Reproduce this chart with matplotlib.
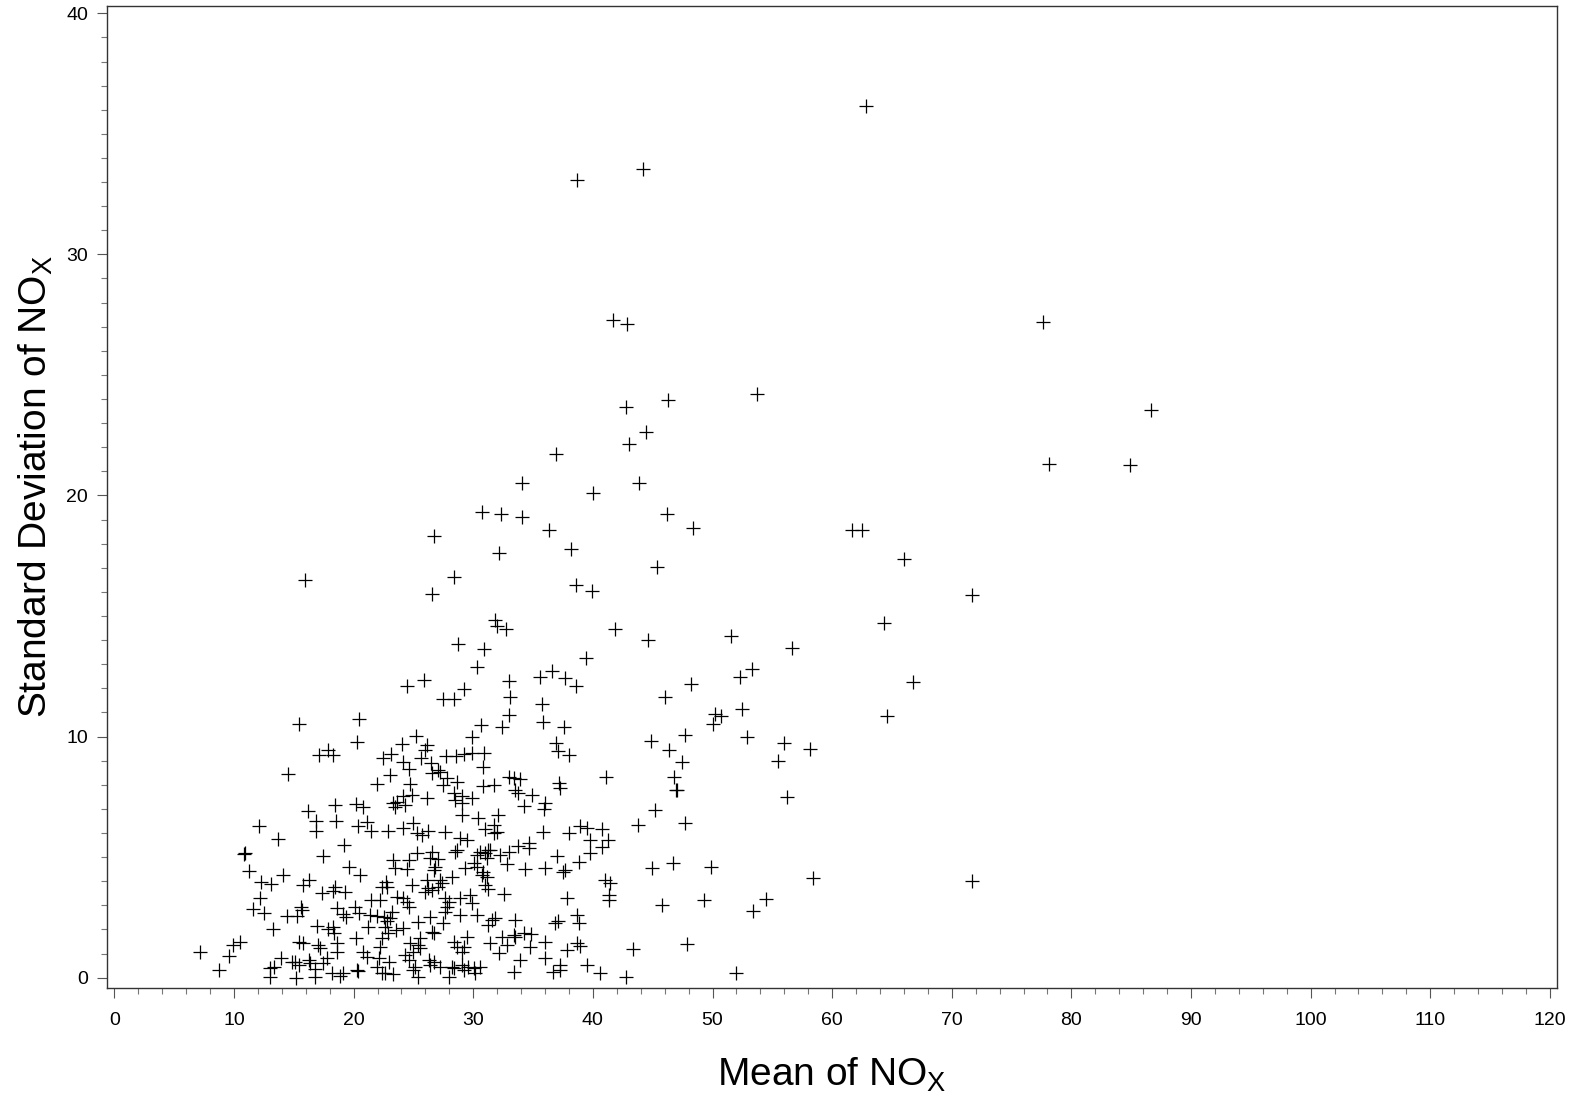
import numpy as np
import matplotlib
matplotlib.use('Agg')
import matplotlib.pyplot as plt
from matplotlib.ticker import MultipleLocator

# mean and standard deviation of NOx, by region
upper_mean = [62.84, 44.15, 38.68, 41.71, 42.89, 77.65, 53.74, 46.3, 86.66, 42.78,
              44.46, 42.98, 36.91, 78.16, 84.9, 34.09, 43.82, 39.97, 30.69, 32.36,
              34.09, 46.2, 36.3, 48.37, 61.66, 62.5, 26.73, 32.19, 38.19, 66.04,
              45.35, 71.7, 64.3]
upper_sd = [36.14, 33.55, 33.09, 27.28, 27.11, 27.19, 24.19, 23.98, 23.55, 23.65,
            22.62, 22.13, 21.72, 21.3, 21.27, 20.5, 20.5, 20.1, 19.33, 19.25,
            19.12, 19.23, 18.56, 18.67, 18.58, 18.58, 18.33, 17.61, 17.79, 17.37,
            17.03, 15.87, 14.7]

mid_mean = [15.97, 28.43, 26.59, 38.6, 39.9, 31.83, 31.97, 32.75, 41.81, 28.74,
            30.89, 39.44, 30.3, 24.5, 25.87, 27.5, 28.39, 29.24, 32.95, 33.11,
            35.57, 36.62, 37.68, 38.6, 35.76, 32.95, 32.39, 30.66, 35.79, 37.62,
            15.44, 20.46, 20.32, 29.88, 25.2, 24.03, 26.12, 25.98, 36.9, 37.12,
            38.04, 17.14, 17.84, 18.31, 22.44, 23.11, 24.12, 24.65, 25.62, 26.48,
            27.09, 27.73, 28.57, 29.24, 29.88, 30.89, 30.8, 14.55]
mid_sd = [16.5, 16.61, 15.92, 16.29, 16.02, 14.84, 14.59, 14.46, 14.46, 13.83,
          13.64, 13.25, 12.88, 12.1, 12.35, 11.55, 11.55, 11.97, 12.31, 11.63,
          12.46, 12.71, 12.42, 12.08, 11.36, 10.91, 10.41, 10.5, 10.6, 10.39,
          10.51, 10.72, 9.78, 10.0, 10.03, 9.7, 9.66, 9.45, 9.75, 9.42,
          9.24, 9.24, 9.45, 9.24, 9.1, 9.28, 8.96, 8.66, 9.13, 8.92,
          8.62, 9.21, 9.21, 9.29, 9.31, 9.31, 8.73, 8.44]

right_mean = [44.6, 51.56, 56.66, 53.26, 52.26, 48.16, 66.76, 46.02, 50.22, 50.73,
              50.06, 52.48, 64.58, 47.74, 44.82, 52.9, 56.0, 58.14, 46.38, 47.47,
              55.47, 46.74, 46.97, 47.0, 56.25, 45.18, 43.81, 47.74, 44.96, 46.69,
              49.87, 58.39, 71.69, 45.77, 49.33, 54.43, 53.4, 43.39, 47.88, 42.78,
              51.95]
right_sd = [14.0, 14.17, 13.69, 12.8, 12.46, 12.2, 12.27, 11.66, 10.95, 10.85,
            10.54, 11.14, 10.86, 10.06, 9.81, 10.0, 9.74, 9.48, 9.43, 8.94,
            8.98, 8.33, 7.78, 7.8, 7.51, 6.96, 6.34, 6.41, 4.54, 4.77,
            4.61, 4.12, 4.0, 3.03, 3.21, 3.28, 2.78, 1.2, 1.39, 0.04,
            0.18]

low_left_mean = [23.04, 21.94, 18.45, 20.18, 20.77, 16.17, 23.33, 23.61, 23.47, 16.89,
                 16.86, 18.51, 21.15, 20.35, 21.44, 22.84, 12.1, 13.66, 19.23, 10.87,
                 10.9, 17.48, 11.24, 19.65, 20.57, 14.13, 12.24, 13.1, 15.8, 16.23,
                 12.19, 11.56, 12.54, 17.39, 18.31, 18.45, 19.29, 15.61, 15.67, 14.41,
                 15.3, 13.24, 16.92, 17.89, 18.31, 18.37, 18.6, 19.15, 19.38, 20.13,
                 20.47, 21.38, 21.94, 22.5, 21.47, 22.22, 23.2, 23.61, 21.24, 15.44,
                 15.8, 16.99, 17.2, 18.6, 18.65, 20.21, 9.95, 10.5, 9.54, 7.17,
                 8.78, 13.0, 13.35, 13.0, 13.91, 14.83, 15.1, 15.46, 15.19, 16.3,
                 16.36, 16.78, 16.8, 17.48, 17.76, 18.18, 18.87, 19.15, 20.27, 20.4,
                 20.82, 21.1, 22.1, 21.94, 22.36, 22.63, 23.33, 22.36, 22.22, 22.91,
                 22.63, 22.99, 23.47, 23.33, 22.72, 22.36, 22.78, 23.05, 22.78, 23.56]
low_left_sd = [8.41, 8.04, 7.17, 7.19, 7.09, 6.93, 7.24, 7.3, 7.07, 6.49,
               6.09, 6.51, 6.45, 6.27, 6.1, 6.09, 6.29, 5.76, 5.52, 5.12,
               5.15, 5.05, 4.44, 4.58, 4.25, 4.26, 3.98, 3.88, 3.85, 4.05,
               3.32, 2.85, 2.7, 3.5, 3.6, 3.78, 3.57, 2.92, 2.81, 2.57,
               2.57, 2.03, 2.16, 2.01, 2.12, 1.84, 2.88, 2.64, 2.53, 2.95,
               2.67, 2.6, 2.57, 2.53, 3.22, 3.22, 2.74, 3.36, 2.12, 1.49,
               1.43, 1.36, 1.22, 1.43, 1.08, 1.63, 1.36, 1.49, 0.91, 1.07,
               0.32, 0.39, 0.43, 0.02, 0.8, 0.66, 0.66, 0.53, 0.0, 0.73,
               0.6, 0.35, 0.04, 0.62, 0.83, 0.21, 0.07, 0.18, 0.32, 0.28,
               1.08, 0.87, 0.8, 0.46, 0.21, 0.18, 0.15, 1.63, 1.29, 1.84,
               2.12, 0.66, 4.54, 4.88, 3.98, 3.78, 3.78, 2.46, 2.35, 1.98]

low_mid_mean = [26.52, 27.23, 27.79, 28.63, 27.5, 24.72, 24.87, 24.16, 24.31, 26.12,
                28.35, 28.49, 29.05, 29.05, 29.88, 29.05, 30.8, 31.7, 30.43, 32.1,
                32.95, 33.37, 33.93, 33.5, 33.78, 34.2, 34.9, 36.01, 35.93, 37.13,
                37.27, 41.11, 24.16, 25.0, 25.28, 25.7, 26.25, 27.65, 28.91, 29.47,
                31.0, 31.7, 31.76, 31.98, 33.78, 34.7, 34.62, 35.79, 38.04, 38.94,
                39.5, 40.75, 41.3, 40.75, 39.77, 39.77, 37.0, 38.8, 37.68, 37.54,
                36.01, 34.34, 41.03, 41.45, 41.31, 41.31, 37.82, 25.28, 26.52, 26.39,
                27.09, 26.81, 26.68, 24.45, 24.59, 28.49, 28.63, 29.32, 30.02, 30.3,
                30.58, 31.0, 31.14, 31.27, 31.4, 32.25, 32.95, 32.81, 30.72, 30.3,
                30.85, 31.14, 31.0, 31.27, 32.53, 26.12, 26.25, 26.52, 25.98, 27.23,
                27.37, 27.09, 28.2, 24.87, 24.16, 24.45, 24.59, 27.65, 27.93, 27.79,
                27.65, 28.91, 29.74, 29.88, 28.91, 30.3, 26.39, 25.42, 27.5, 26.54,
                26.68, 24.16, 31.27, 31.55, 31.83, 33.5, 36.85, 37.07, 38.66, 38.8,
                25.56, 25.42, 25.56, 24.72, 25.0, 24.31, 24.59, 29.47, 29.19, 29.05,
                28.35, 28.63, 31.41, 32.39, 32.81, 33.37, 33.5, 34.2, 34.84, 34.76,
                32.12, 35.97, 36.01, 37.82, 38.66, 38.94, 33.92, 37.27, 39.5, 26.27,
                26.68, 26.39, 27.23, 25.14, 25.0, 25.42, 28.2, 28.35, 27.93, 29.05,
                29.19, 29.6, 30.02, 30.58, 30.16, 33.37, 36.7, 37.27, 40.61]
low_mid_sd = [8.48, 8.51, 8.27, 8.1, 8.0, 8.04, 7.59, 7.52, 7.17, 7.45,
              7.65, 7.35, 7.52, 7.24, 7.45, 6.75, 7.93, 8.0, 6.61, 6.75,
              8.34, 8.27, 8.23, 7.79, 7.65, 7.13, 7.59, 7.23, 7.0, 8.07,
              7.86, 8.34, 6.2, 6.41, 5.99, 5.92, 6.09, 6.06, 5.78, 5.71,
              6.16, 6.34, 5.99, 6.06, 5.44, 5.58, 5.37, 6.03, 6.02, 6.29,
              6.22, 6.16, 5.71, 5.41, 5.71, 5.16, 5.05, 4.81, 4.45, 4.38,
              4.54, 4.51, 4.05, 3.92, 3.43, 3.22, 3.29, 5.16, 5.23, 4.95,
              4.91, 4.61, 4.47, 4.5, 4.88, 5.23, 5.3, 4.54, 4.74, 5.09,
              5.23, 5.19, 4.95, 5.3, 5.3, 5.09, 5.23, 4.71, 4.26, 4.61,
              4.4, 4.19, 3.85, 3.67, 3.47, 4.05, 3.71, 3.65, 3.57, 4.05,
              3.92, 3.78, 4.17, 3.85, 3.29, 3.15, 2.95, 3.29, 3.15, 2.95,
              2.74, 3.29, 3.44, 3.09, 2.6, 2.6, 2.53, 2.32, 2.26, 1.91,
              1.84, 2.05, 2.19, 2.39, 2.46, 2.39, 2.28, 2.35, 2.6, 2.26,
              1.63, 1.36, 1.22, 1.43, 1.08, 0.94, 0.73, 1.7, 1.29, 1.08,
              1.49, 1.29, 1.43, 1.7, 1.36, 1.77, 1.7, 1.84, 1.82, 1.29,
              1.01, 1.49, 0.8, 1.15, 1.43, 1.32, 0.73, 0.53, 0.53, 0.73,
              0.66, 0.53, 0.46, 0.46, 0.32, 0.02, 0.46, 0.39, 0.04, 0.53,
              0.32, 0.46, 0.39, 0.46, 0.18, 0.22, 0.22, 0.32, 0.18]

x_ticks = np.arange(0, 121, 10)
y_ticks = np.arange(0, 41, 10)

plt.rcParams['font.family'] = ['Liberation Sans', 'DejaVu Sans']
plt.rcParams['mathtext.fontset'] = 'custom'
plt.rcParams['mathtext.rm'] = 'Liberation Sans'

mean_nox = np.concatenate([upper_mean, mid_mean, right_mean, low_left_mean, low_mid_mean])
sd_nox = np.concatenate([upper_sd, mid_sd, right_sd, low_left_sd, low_mid_sd])

fig = plt.figure(figsize=(15.79, 11.0), dpi=100)
ax = fig.add_axes([0.0676, 0.1018, 0.9185, 0.8927])

ax.plot(mean_nox, sd_nox, '+', color='black', markersize=10, markeredgewidth=0.9)

ax.set_xlim(-0.64, 120.6)
ax.set_ylim(-0.43, 40.3)
ax.set_xticks(x_ticks)
ax.set_yticks(y_ticks)
ax.xaxis.set_minor_locator(MultipleLocator(2))
ax.yaxis.set_minor_locator(MultipleLocator(1))
ax.tick_params(which='major', direction='out', length=7.5, width=0.8,
               color='#555555', labelsize=14, pad=6)
ax.tick_params(which='minor', direction='out', length=4, width=0.8, color='#777777')
ax.tick_params(axis='x', which='major', pad=10)
for s in ax.spines.values():
    s.set_color('#333333')
    s.set_linewidth(1.0)

fig.text(0.527, 0.0127, r'Mean of NO$_\mathregular{X}$', fontsize=28,
         ha='center', va='baseline')
fig.text(0.0228, 0.558, r'Standard Deviation of NO$_\mathregular{X}$', fontsize=28,
         rotation=90, ha='center', va='center')

fig.savefig('out.png', dpi=100)
